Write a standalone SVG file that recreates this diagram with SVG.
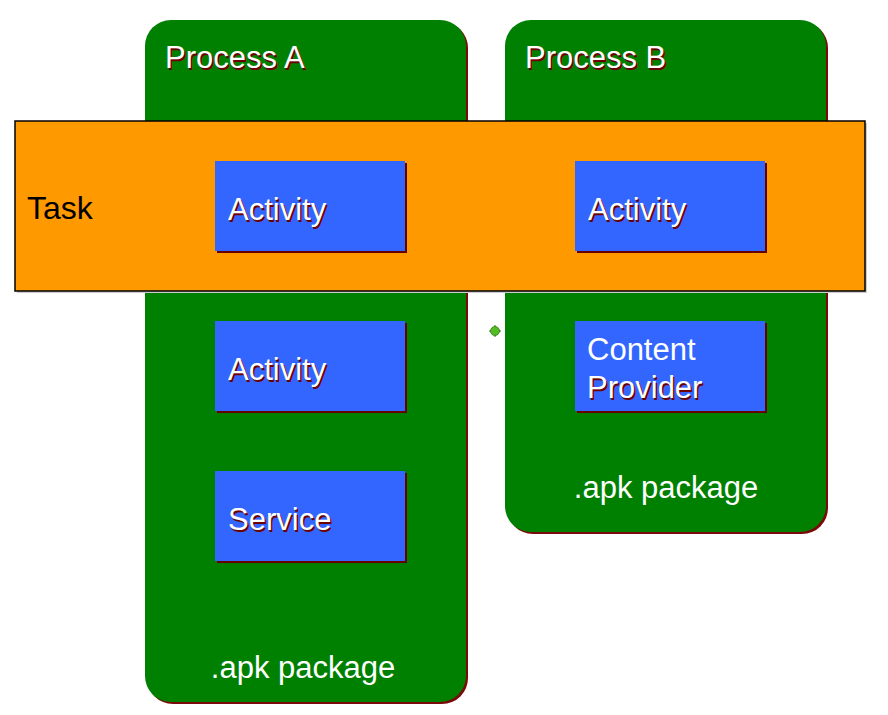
<svg xmlns="http://www.w3.org/2000/svg" width="888" height="715" viewBox="0 0 888 715">
<style>
text{font-family:"Liberation Sans",Arial,sans-serif;font-size:31px}
.proc{fill:#008000}
.procsh{fill:#7a0a0a}
.comp{fill:#3366ff}
.compsh{fill:#660000}
.lbl{fill:#ffffff}
.sh{fill:#6b0000}
.apk{fill:#ffffff;text-anchor:middle}
.task{fill:#000000;font-size:32px}
</style>
<rect width="888" height="715" fill="#ffffff"/>
<g id="processA">
<rect class="procsh" x="147" y="22" width="321" height="682" rx="26"/>
<rect class="proc" x="145" y="20" width="321" height="682" rx="26"/>
<text class="sh" x="166.5" y="69.5">Process A</text>
<text class="lbl" x="165" y="68">Process A</text>
<text class="apk" x="303" y="678">.apk package</text>
</g>
<g id="processB">
<rect class="procsh" x="507" y="22" width="321" height="512" rx="26"/>
<rect class="proc" x="505" y="20" width="321" height="512" rx="26"/>
<text class="sh" x="526.5" y="69.5">Process B</text>
<text class="lbl" x="525" y="68">Process B</text>
<text class="apk" x="666" y="498">.apk package</text>
</g>
<g id="task">
<rect x="17" y="123" width="850" height="170" fill="#cccccc"/>
<rect x="15" y="121" width="850" height="170" fill="#ff9900" stroke="#000000" stroke-width="1.5"/>
<text class="task" x="27" y="219">Task</text>
</g>
<g id="activityA1">
<rect class="compsh" x="217" y="163" width="190" height="90"/>
<rect class="comp" x="215" y="161" width="190" height="90"/>
<text class="sh" x="229.5" y="221.5">Activity</text>
<text class="lbl" x="228" y="220">Activity</text>
</g>
<g id="activityB">
<rect class="compsh" x="577" y="163" width="190" height="90"/>
<rect class="comp" x="575" y="161" width="190" height="90"/>
<text class="sh" x="589.5" y="221.5">Activity</text>
<text class="lbl" x="588" y="220">Activity</text>
</g>
<g id="activityA2">
<rect class="compsh" x="217" y="323" width="190" height="90"/>
<rect class="comp" x="215" y="321" width="190" height="90"/>
<text class="sh" x="229.5" y="381.5">Activity</text>
<text class="lbl" x="228" y="380">Activity</text>
</g>
<g id="service">
<rect class="compsh" x="217" y="473" width="190" height="90"/>
<rect class="comp" x="215" y="471" width="190" height="90"/>
<text class="sh" x="229.5" y="531.5">Service</text>
<text class="lbl" x="228" y="530">Service</text>
</g>
<g id="contentProvider">
<rect class="compsh" x="577" y="323" width="190" height="90"/>
<rect class="comp" x="575" y="321" width="190" height="90"/>
<text class="lbl" x="587" y="360">Content</text>
<text class="sh" x="588.5" y="399.5">Provider</text>
<text class="lbl" x="587" y="398">Provider</text>
</g>
<g id="connectors">
<g id="point">
<line x1="489" y1="331" x2="501" y2="331" stroke="#2f6f10" stroke-width="1"/>
<line x1="495" y1="325" x2="495" y2="337" stroke="#2f6f10" stroke-width="1"/>
<circle cx="495" cy="331" r="4.5" fill="#55bb22" stroke="#2f7f10" stroke-width="0.8"/>
</g>
</g>
</svg>
